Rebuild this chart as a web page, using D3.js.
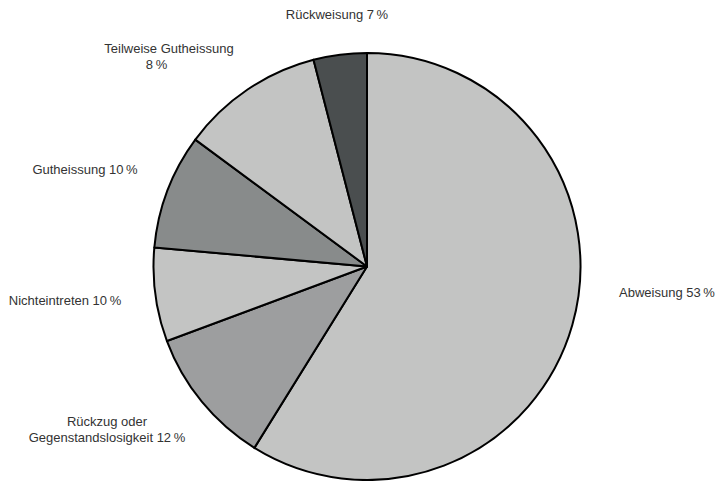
<!DOCTYPE html>
<html lang="de">
<head>
    <meta charset="UTF-8">
    <title>Erledigungsarten</title>
    <script src="https://cdn.jsdelivr.net/npm/d3@7"></script>
    <style>
        body {
          margin: 0;
          background: #fff;
        }
        text {
          font-family: "Liberation Sans", Arial, sans-serif;
          font-size: 13px;
          fill: #333;
        }
        path {
          stroke: #000;
          stroke-width: 2px;
          stroke-linejoin: round;
        }
    </style>
</head>
<body>
    <script>
        // slices start at 12 o'clock, clockwise
        let categories = ['Abweisung', 'Rückzug oder Gegenstandslosigkeit', 'Nichteintreten',
                          'Gutheissung', 'Teilweise Gutheissung', 'Rückweisung'];
        let values = [58.85, 10.48, 7.10, 8.71, 10.84, 4.03];   // slice sizes as drawn
        let shares = ['53', '12', '10', '10', '8', '7'];          // printed percentages
        let colors = ['#c3c4c3', '#9d9e9f', '#c3c4c3', '#888b8b', '#c3c4c3', '#4a4e4f'];

        // label lines and anchor points
        let labelLines = [
            ['Abweisung 53\u2009%'],
            ['Rückzug oder', 'Gegenstandslosigkeit 12\u2009%'],
            ['Nichteintreten 10\u2009%'],
            ['Gutheissung 10\u2009%'],
            ['Teilweise Gutheissung', '8\u2009%'],
            ['Rückweisung 7\u2009%']
        ];
        let labelPos = [
            {x: 667, y: 297, anchor: 'middle'},
            {x: 107, y: 426, anchor: 'middle'},
            {x: 65, y: 305, anchor: 'middle'},
            {x: 85, y: 174, anchor: 'middle'},
            {x: 169, y: 53, anchor: 'middle'},
            {x: 337, y: 19, anchor: 'middle'}
        ];

        let w = 720;
        let h = 481;
        let cx = 367;
        let cy = 266.5;
        let r = 213.5;

        let svg = d3.select('body')
                    .append('svg')
                    .attr('width', w)
                    .attr('height', h)

        let pie = d3.pie().sort(null).value(d => d);
        let arc = d3.arc().innerRadius(0).outerRadius(r);

        let g = svg.append('g')
                   .attr('transform', 'translate(' + cx + ',' + cy + ')')

        g.selectAll('path')
         .data(pie(values))
         .enter()
         .append('path')
         .attr('d', arc)
         .style('fill', (d, i) => colors[i])

        let labels = svg.selectAll('.label')
                        .data(labelLines)
                        .enter()
                        .append('text')
                        .attr('class', 'label')
                        .attr('text-anchor', (d, i) => labelPos[i].anchor)
                        .attr('x', (d, i) => labelPos[i].x)
                        .attr('y', (d, i) => labelPos[i].y)

        labels.selectAll('tspan')
              .data((d, i) => d.map(t => ({t: t, i: i})))
              .enter()
              .append('tspan')
              .attr('x', d => d.i === 4 && d.t.startsWith('8') ? 156.5 : labelPos[d.i].x)
              .attr('dy', (d, j) => j === 0 ? 0 : 16)
              .text(d => d.t)
    </script>
</body>
</html>
